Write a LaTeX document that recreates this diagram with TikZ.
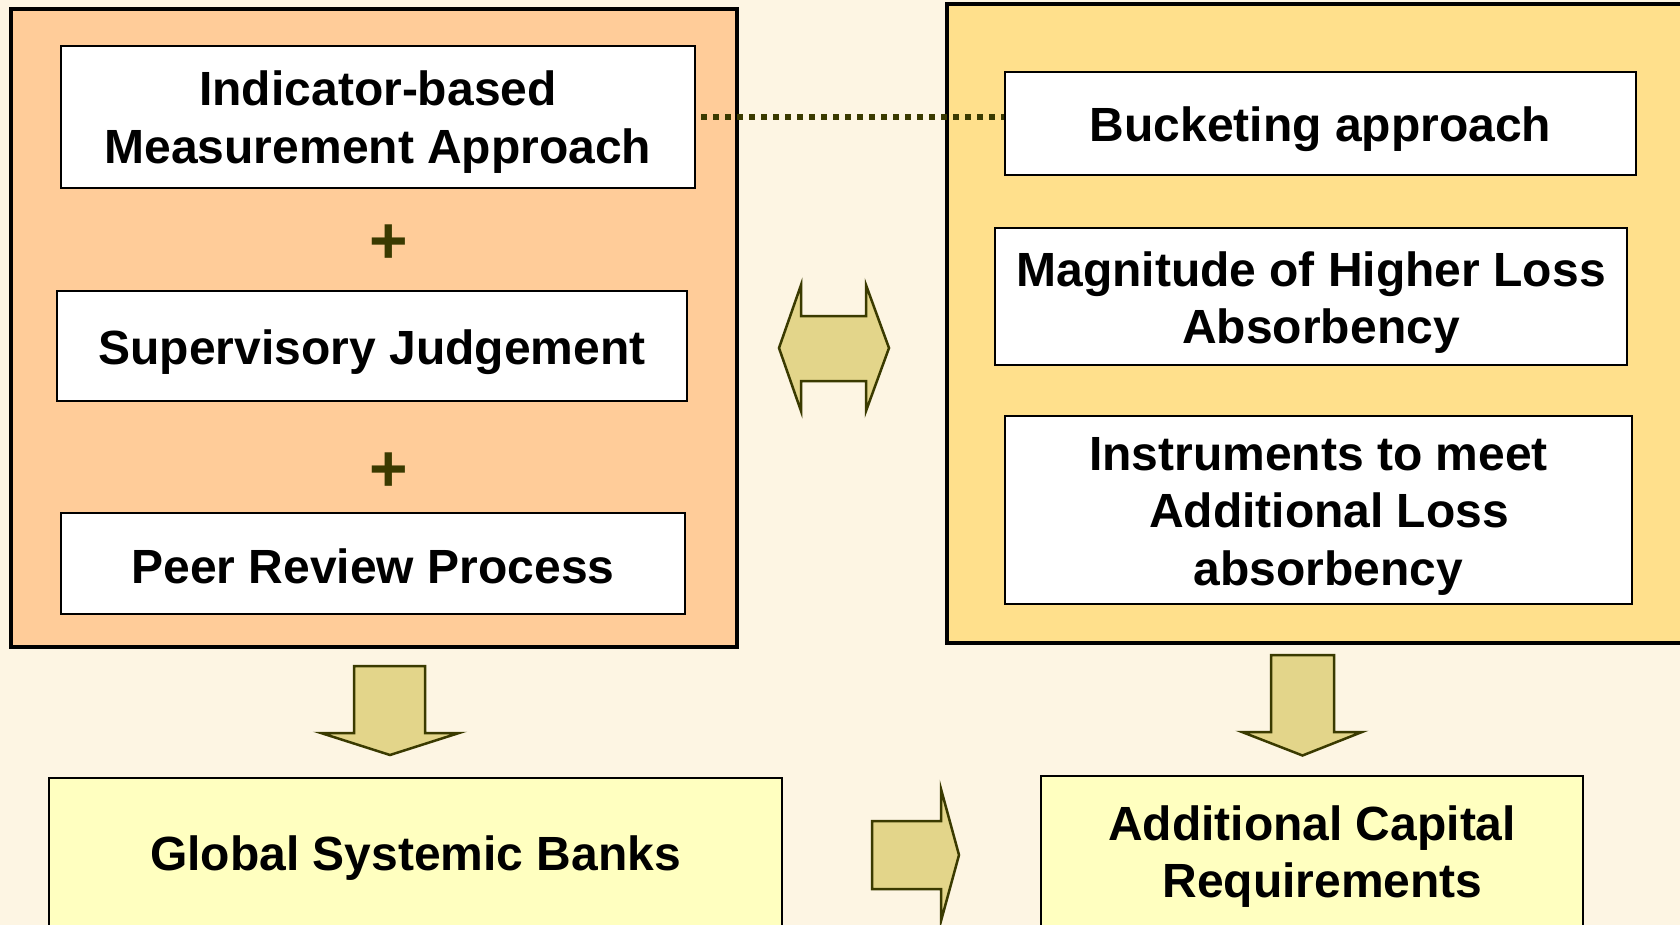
\documentclass[tikz,border=0pt]{standalone}
\usepackage{fontspec}
\setmainfont{Liberation Sans}
\usetikzlibrary{calc}
\definecolor{bgcream}{HTML}{FDF5E3}
\definecolor{peach}{HTML}{FFCC99}
\definecolor{gold}{HTML}{FFE08C}
\definecolor{paleyellow}{HTML}{FFFFC0}
\definecolor{arrowfill}{HTML}{E3D58A}
\definecolor{olive}{HTML}{3A3A00}
\tikzset{
  outerbox/.style={draw=black, line width=3.5pt, inner sep=0pt},
  inbox/.style={draw=black, line width=2pt, fill=white, inner sep=0pt},
  lowbox/.style={draw=black, line width=2pt, fill=paleyellow, inner sep=0pt},
  txt/.style={inner sep=0pt, align=center, font=\fontsize{48}{57.5}\selectfont\bfseries},
  plussign/.style={text=olive, inner sep=0pt, font=\fontsize{66}{66}\selectfont\bfseries},
  blockarrow/.style={draw=olive, fill=arrowfill, line width=2.5pt, line join=miter},
  dotline/.style={draw=olive, line width=6pt, dash pattern=on 6pt off 6pt}
}
\begin{document}
\begin{tikzpicture}[x=1pt, y=-1pt]
\useasboundingbox (0,0) rectangle (1680,925);
\clip (0,0) rectangle (1680,925);
\fill[bgcream] (0,0) rectangle (1680,925);

% left group
\node[outerbox, fill=peach, minimum width=726pt, minimum height=638pt] (left) at (374,328) {};
\node[inbox, minimum width=634pt, minimum height=141.5pt,
  label={[txt, yshift=-5.5pt]center:Indicator-based\\Measurement Approach}] (ind) at (378,116.8) {};
\node[plussign] (p1) at (389,244) {+};
\node[inbox, minimum width=630pt, minimum height=110pt,
  label={[txt, yshift=-6pt]center:Supervisory Judgement}] (sup) at (372,346) {};
\node[plussign] (p2) at (389,472) {+};
\node[inbox, minimum width=624pt, minimum height=101pt,
  label={[txt, yshift=-3pt]center:Peer Review Process}] (peer) at (373,563.5) {};

% right group
\node[outerbox, fill=gold, minimum width=743pt, minimum height=639pt] (right) at (1318.5,323.5) {};
\node[inbox, minimum width=631pt, minimum height=103pt,
  label={[txt, yshift=-6pt]center:Bucketing approach}] (buck) at (1320.5,123.5) {};
\node[inbox, minimum width=632pt, minimum height=137pt,
  label={[txt, yshift=-6pt]center:Magnitude of Higher Loss\\\hspace*{20pt}Absorbency}] (mag) at (1311,296.5) {};
\node[inbox, minimum width=627pt, minimum height=188pt,
  label={[txt, yshift=-6pt]center:Instruments to meet\\\hspace*{21pt}Additional Loss\\\hspace*{20pt}absorbency}] (inst) at (1318.5,510) {};

% dotted connector
\coordinate (dA) at ($(ind.east)+(5,0)$);
\draw[dotline] (dA) -- (dA -| buck.west);

% bottom boxes
\node[lowbox, minimum width=733pt, minimum height=152pt,
  label={[txt, yshift=-4.5pt]center:Global Systemic Banks}] (gsb) at (415.5,854) {};
\node[lowbox, minimum width=542pt, minimum height=154pt,
  label={[txt, yshift=-3.5pt]center:Additional Capital\\\hspace*{21pt}Requirements}] (acr) at (1312,853) {};

% double arrow
\draw[blockarrow] (779,348) -- (801,285) -- (801,316) -- (866,316) -- (866,285) -- (889,348)
  -- (866,411) -- (866,381) -- (801,381) -- (801,411) -- cycle;

% left down arrow
\draw[blockarrow] (354,666) -- (425,666) -- (425,733) -- (459,733) -- (390,755) -- (321,733) -- (354,733) -- cycle;

% right down arrow
\draw[blockarrow] (1271,655) -- (1334,655) -- (1334,732) -- (1362,732) -- (1302.5,755.5) -- (1242,732) -- (1271,732) -- cycle;

% right arrow
\draw[blockarrow] (872,821) -- (941,821) -- (941,789) -- (959,855) -- (941,921) -- (941,889) -- (872,889) -- cycle;
\end{tikzpicture}
\end{document}
